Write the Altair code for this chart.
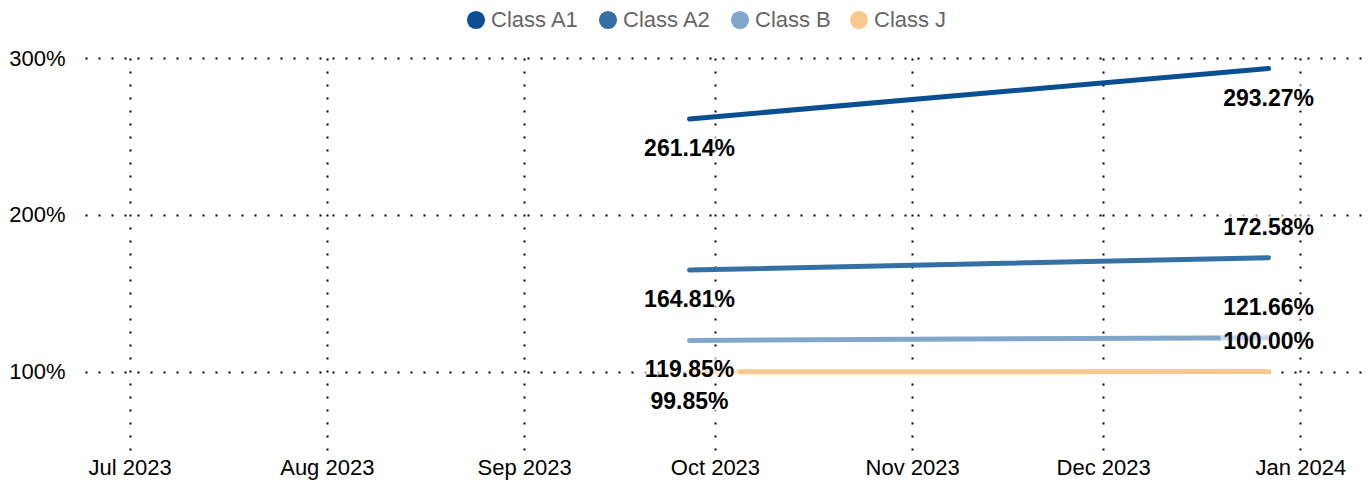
import altair as alt
import pandas as pd

classes = ["Class A1", "Class A2", "Class B", "Class J"]
colors = ["#0a4f91", "#3470a4", "#80a7ca", "#f8c88e"]
start_date = "2023-09-27"
end_date = "2023-12-27"
start_vals = [2.6114, 1.6481, 1.1985, 0.9985]
end_vals = [2.9327, 1.7258, 1.2166, 1.0000]
end_label_above = [False, True, True, True]

rows = []
for c, s, e, up in zip(classes, start_vals, end_vals, end_label_above):
    rows.append({"cls": c, "date": start_date, "value": s, "pos": "below"})
    rows.append({"cls": c, "date": end_date, "value": e, "pos": "above" if up else "below"})
df = pd.DataFrame(rows)

FONT = "Liberation Sans"

x_enc = alt.X(
    "date:T",
    title=None,
    scale=alt.Scale(domain=["2023-06-24", "2024-01-11"], nice=False),
    axis=alt.Axis(
        format="%b %Y",
        tickCount={"interval": "month", "step": 1},
        labelFontSize=22,
        labelColor="#000",
        labelPadding=7,
        ticks=False,
        domain=False,
        grid=True,
        gridColor="#000",
        gridDash=[2, 11],
        gridWidth=2,
        labelFont=FONT,
    ),
)
y_enc = alt.Y(
    "value:Q",
    title=None,
    scale=alt.Scale(domain=[0.5, 3.0], nice=False, zero=False),
    axis=alt.Axis(
        values=[1, 2, 3],
        format=".0%",
        labelFontSize=22,
        labelColor="#000",
        labelPadding=20,
        ticks=False,
        domain=False,
        grid=True,
        gridColor="#000",
        gridDash=[2, 11],
        gridWidth=2,
        labelFont=FONT,
    ),
)
legend = alt.Legend(
    title=None,
    orient="none",
    direction="horizontal",
    legendX=380,
    legendY=-49,
    symbolType="circle",
    symbolSize=330,
    symbolStrokeWidth=0,
    symbolOpacity=1,
    labelFontSize=22,
    labelColor="#666666",
    labelFont=FONT,
    labelOffset=4,
    columnPadding=17,
)
color_enc = alt.Color(
    "cls:N",
    scale=alt.Scale(domain=classes, range=colors),
    legend=legend,
)

base = alt.Chart(df)

legend_pts = base.mark_circle(opacity=0, size=1).encode(
    x=x_enc, y=y_enc, color=color_enc
)

lines = base.mark_line(strokeWidth=5, strokeCap="round").encode(
    x="date:T", y="value:Q", color=color_enc, detail="cls:N"
)


def labels(pos, dy):
    src = base.transform_filter(alt.datum.pos == pos)
    enc = dict(x="date:T", y="value:Q", text=alt.Text("value:Q", format=".2%"))
    halo = src.mark_text(
        fontSize=23, fontWeight="bold", font=FONT, dy=dy, align="center",
        color="white", stroke="white", strokeWidth=9, opacity=0.6,
        strokeJoin="round",
    ).encode(**enc)
    txt = src.mark_text(
        fontSize=23, fontWeight="bold", font=FONT, color="#000", dy=dy, align="center"
    ).encode(**enc)
    return [halo, txt]


chart = (
    alt.layer(legend_pts, lines, *labels("below", 30), *labels("above", -30))
    .properties(
        width=1279,
        height=392,
        autosize=alt.AutoSizeParams(type="none"),
        padding={"left": 77, "top": 50, "right": 0, "bottom": 32},
    )
    .configure_view(stroke=None)
)

chart.save("out.html", embed_options={"renderer": "svg", "actions": False})
